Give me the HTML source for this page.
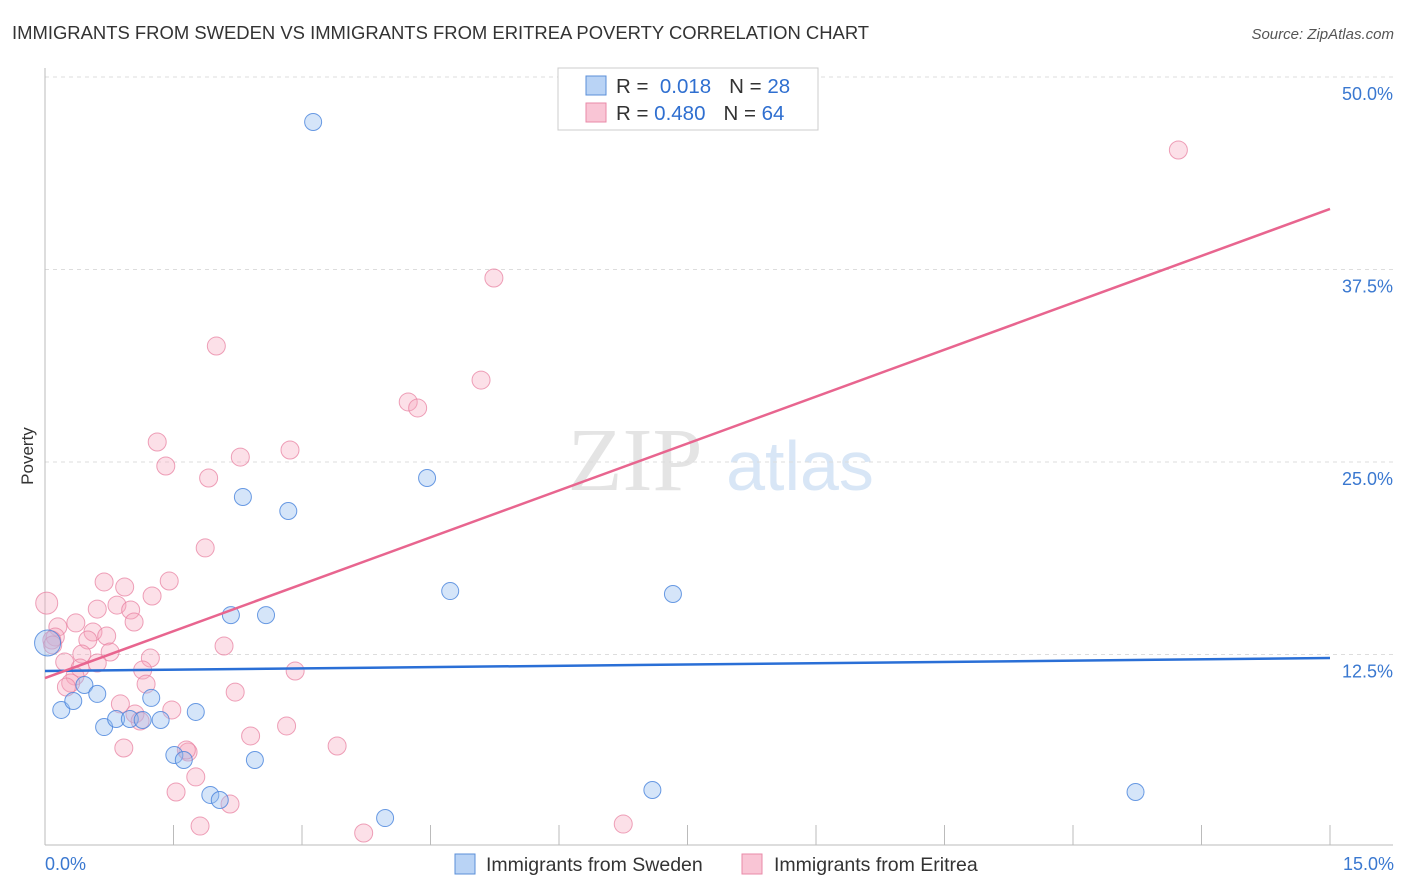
<!DOCTYPE html>
<html><head><meta charset="utf-8"><style>
body{margin:0;background:#fff;font-family:"Liberation Sans",sans-serif;}
svg{display:block}
</style></head><body>
<svg id="c" width="1406" height="892">
<text x="12" y="39" font-size="18.45" fill="#333">IMMIGRANTS FROM SWEDEN VS IMMIGRANTS FROM ERITREA POVERTY CORRELATION CHART</text>
<text x="1394" y="39" font-size="15" fill="#555" font-style="italic" text-anchor="end">Source: ZipAtlas.com</text>
<text x="33" y="456" font-size="17" fill="#333" transform="rotate(-90 33 456)" text-anchor="middle">Poverty</text>
<g><text x="635" y="490" font-size="90" font-family="Liberation Serif,serif" fill="#e4e4e4" text-anchor="middle">ZIP</text><text x="800" y="490" font-size="70" fill="#d8e6f6" text-anchor="middle">atlas</text></g>
<g id="grid"></g><g id="axes"></g><g id="pts"></g><g id="lines"></g>
<g>
<rect x="558" y="68" width="260" height="62" fill="#fff" stroke="#ccc"/>
<rect x="586" y="76" width="20" height="19" fill="#b9d3f5" stroke="#5b8fd8"/>
<rect x="586" y="103" width="20" height="19" fill="#f9c5d5" stroke="#e98aa8"/>
<text x="616" y="93" font-size="20.5" fill="#333">R = <tspan fill="#2f6fd0">&#160;0.018</tspan><tspan dx="18">N = </tspan><tspan fill="#2f6fd0">28</tspan></text>
<text x="616" y="120" font-size="20.5" fill="#333">R = <tspan fill="#2f6fd0">0.480</tspan><tspan dx="18">N = </tspan><tspan fill="#2f6fd0">64</tspan></text>
</g>
<g>
<rect x="455" y="854" width="20" height="20" fill="#b9d3f5" stroke="#5b8fd8"/>
<text x="486" y="871" font-size="19.5" fill="#333">Immigrants from Sweden</text>
<rect x="742" y="854" width="20" height="20" fill="#f9c5d5" stroke="#e98aa8"/>
<text x="774" y="871" font-size="19.5" fill="#333">Immigrants from Eritrea</text>
</g>
<text x="45" y="870" font-size="18" fill="#3a78d0">0.0%</text>
<text x="1394" y="870" font-size="18" fill="#3a78d0" text-anchor="end">15.0%</text>
</svg>
<script>
const yTicks=[12.5,25,37.5,50];
const yTickLabels=["12.5%","25.0%","37.5%","50.0%"];
const xTicks=[0,1.5,3,4.5,6,7.5,9,10.5,12,13.5,15];
const swedenX=[3.13,2.31,2.84,4.46,4.73,7.33,2.17,2.58,0.03,0.19,0.33,0.46,0.61,0.69,0.83,0.99,1.14,1.35,1.24,1.76,1.51,1.62,2.45,1.93,2.04,3.97,7.09,12.73];
const swedenY=[47.08,22.73,21.82,23.96,16.62,16.43,15.06,15.06,13.25,8.90,9.48,10.52,9.94,7.79,8.31,8.31,8.25,8.25,9.68,8.77,5.97,5.65,5.65,3.38,3.05,1.88,3.70,3.57];
const eritreaX=[13.23,5.24,2.00,5.09,4.24,4.35,1.31,1.41,2.86,2.28,1.91,1.87,0.69,0.93,1.45,1.25,0.02,0.61,0.84,1.00,1.04,0.36,0.15,0.56,0.12,0.72,0.50,0.08,0.09,2.09,0.43,0.76,1.23,0.23,0.61,0.41,1.14,2.92,0.35,0.30,0.25,1.18,2.22,0.88,1.48,1.05,1.11,2.82,2.40,0.92,3.41,1.67,1.76,1.53,2.16,1.81,3.72,6.75,1.65];
const eritreaY=[45.26,36.95,32.53,30.32,28.90,28.51,26.30,24.74,25.78,25.32,23.96,19.42,17.21,16.88,17.27,16.30,15.84,15.45,15.71,15.39,14.61,14.55,14.29,13.96,13.64,13.70,13.44,13.44,13.12,13.05,12.53,12.66,12.27,12.01,11.95,11.62,11.49,11.43,11.10,10.65,10.39,10.58,10.06,9.29,8.90,8.64,8.18,7.86,7.21,6.43,6.56,6.17,4.55,3.57,2.79,1.36,0.91,1.49,6.30];
const swedenTrend=[11.43,12.27];
const eritreaTrend=[10.97,41.43];
const NS="http://www.w3.org/2000/svg";
const sx=v=>45+v*(1285/15), sy=v=>847-v*15.4;
function mk(t,a,p){const e=document.createElementNS(NS,t);for(const k in a)e.setAttribute(k,a[k]);p.appendChild(e);return e;}
const grid=document.getElementById('grid'),axes=document.getElementById('axes'),pts=document.getElementById('pts'),lines=document.getElementById('lines');
yTicks.forEach((t,i)=>{
 const l=mk('line',{x1:45,x2:1393,y1:sy(t),y2:sy(t),stroke:'#ddd','stroke-dasharray':'4,4'},grid);
 
 
 const tx=mk('text',{x:1393,y:sy(t)+23,'font-size':18,fill:'#3a78d0','text-anchor':'end'},grid);
 tx.textContent=yTickLabels[i];
 
 
});
const la=mk('line',{x1:45,x2:45,y1:68,y2:845,stroke:'#bbb'},axes);


const lb=mk('line',{x1:45,x2:1393,y1:845,y2:845,stroke:'#bbb'},axes);


xTicks.forEach(t=>{
 const l=mk('line',{x1:sx(t),x2:sx(t),y1:825,y2:845,stroke:'#bbb'},axes);
 
 
});
eritreaX.forEach((x,i)=>{
 const r=(i===16)?11:9;
 const c=mk('circle',{cx:sx(x),cy:sy(eritreaY[i]),r:r,fill:'rgba(245,165,190,0.35)',stroke:'rgba(232,130,162,0.75)','stroke-width':1},pts);
 
 
});
swedenX.forEach((x,i)=>{
 const r=(i===8)?13:8.5;
 const c=mk('circle',{cx:sx(x),cy:sy(swedenY[i]),r:r,fill:'rgba(150,190,240,0.4)',stroke:'rgba(70,130,220,0.8)','stroke-width':1},pts);
 
 
});
const t1=mk('line',{x1:sx(0),x2:sx(15),y1:sy(swedenTrend[0]),y2:sy(swedenTrend[1]),stroke:'#2a6fd6','stroke-width':2.5},lines);


const t2=mk('line',{x1:sx(0),x2:sx(15),y1:sy(eritreaTrend[0]),y2:sy(eritreaTrend[1]),stroke:'#e8658f','stroke-width':2.5},lines);


</script>
</body></html>
